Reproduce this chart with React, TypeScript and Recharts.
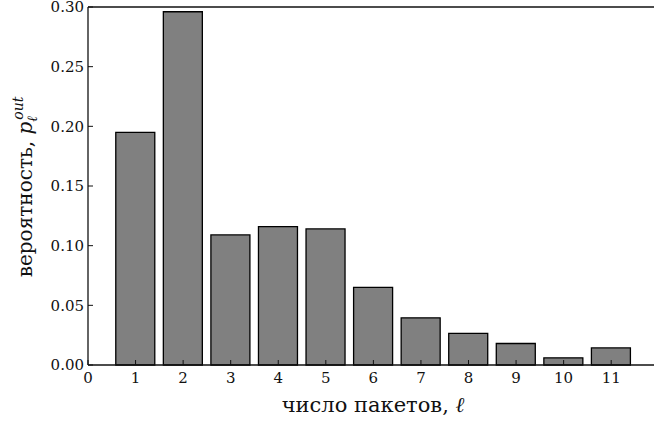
import React from "react";
import { Bar, BarChart, Label, XAxis, YAxis } from "recharts";

// число пакетов
const packets = [1, 2, 3, 4, 5, 6, 7, 8, 9, 10, 11];
// вероятность p_l^out
const probs = [0.195, 0.296, 0.109, 0.116, 0.114, 0.065, 0.0395, 0.0265, 0.018, 0.006, 0.0143];
const xTicks = [0, 1, 2, 3, 4, 5, 6, 7, 8, 9, 10, 11];
const yTicks = [0, 0.05, 0.1, 0.15, 0.2, 0.25, 0.3];

const FONT = "'DejaVu Serif', serif";
const INK = "#111";

const YLabel = (props: any) => {
  const { viewBox } = props;
  const cx = 32;
  const cy = viewBox.y + viewBox.height / 2 + 1;
  return (
    <text
      x={cx}
      y={cy}
      transform={`rotate(-90, ${cx}, ${cy})`}
      textAnchor="middle"
      style={{ fontFamily: FONT, fontSize: 20, fill: INK }}
    >
      <tspan>вероятность, </tspan>
      <tspan fontStyle="italic">p</tspan>
      <tspan fontStyle="italic" fontSize={14} dy={5}>ℓ</tspan>
      <tspan fontStyle="italic" fontSize={14} dy={-14} dx={-4}>out</tspan>
    </text>
  );
};

const XLabel = (props: any) => {
  const { viewBox } = props;
  return (
    <text
      x={373}
      y={viewBox.y + 47}
      textAnchor="middle"
      style={{ fontFamily: FONT, fontSize: 21, fill: INK }}
    >
      <tspan>число пакетов, </tspan>
      <tspan fontStyle="italic">ℓ</tspan>
    </text>
  );
};

const tickStyle = { fill: INK, fontSize: 15, style: { fontFamily: FONT } };

const App = () => {
  const data = packets.map((n, i) => ({ n, p: probs[i] }));

  return (
    <div style={{ position: "absolute", left: 0, top: 0, background: "#fff", fontFamily: FONT }}>
      <BarChart
        width={654}
        height={422}
        data={data}
        margin={{ top: 6, right: 0, bottom: 0, left: 0 }}
      >
        <XAxis
          xAxisId="top"
          orientation="top"
          dataKey="n"
          type="number"
          domain={[0, 11.9]}
          ticks={xTicks}
          height={1}
          tick={false}
          tickSize={-5}
          interval={0}
          axisLine={{ stroke: INK, strokeWidth: 1.3 }}
          tickLine={{ stroke: INK }}
        />
        <XAxis
          dataKey="n"
          type="number"
          domain={[0, 11.9]}
          ticks={xTicks}
          height={57}
          tickSize={-5}
          tickMargin={12}
          interval={0}
          axisLine={{ stroke: INK, strokeWidth: 1.3 }}
          tickLine={{ stroke: INK }}
          tick={tickStyle}
        >
          <Label content={<XLabel />} />
        </XAxis>
        <YAxis
          domain={[0, 0.3]}
          ticks={yTicks}
          width={88}
          tickSize={-5}
          tickMargin={9}
          interval={0}
          tickFormatter={(v: number) => v.toFixed(2)}
          axisLine={{ stroke: INK, strokeWidth: 1.3 }}
          tickLine={{ stroke: INK }}
          tick={tickStyle}
        >
          <Label content={<YLabel />} />
        </YAxis>
        <Bar
          dataKey="p"
          xAxisId={0}
          fill="#808080"
          stroke="#000"
          strokeWidth={1.3}
          barSize={39}
          isAnimationActive={false}
        />
        <Bar
          dataKey="p"
          xAxisId="top"
          fill="none"
          stroke="none"
          barSize={39}
          isAnimationActive={false}
        />
      </BarChart>
    </div>
  );
};

export default App;
